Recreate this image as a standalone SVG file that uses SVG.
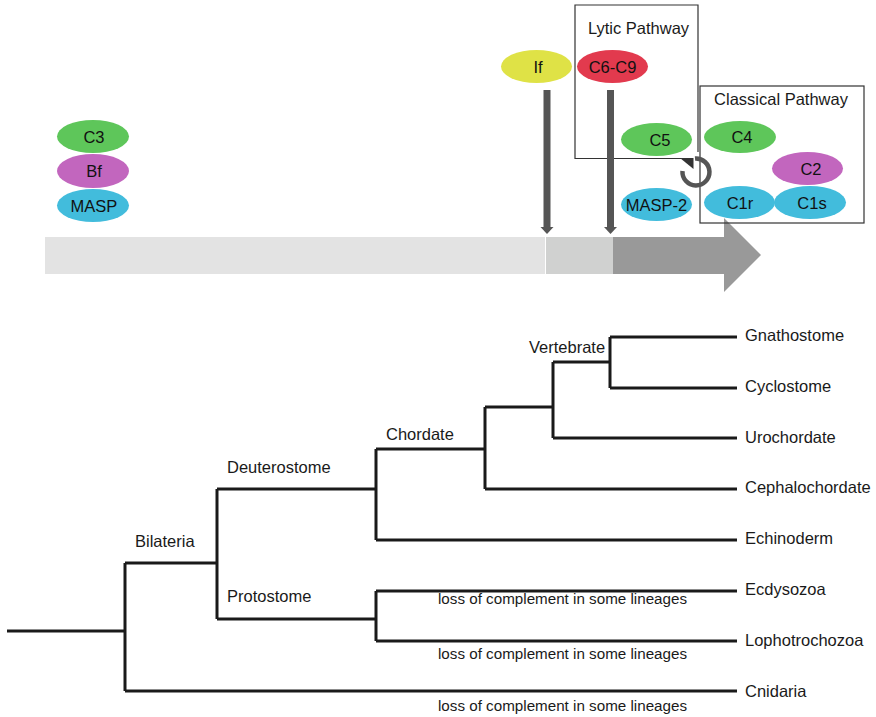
<svg xmlns="http://www.w3.org/2000/svg" width="876" height="717" viewBox="0 0 876 717">
<style>
text { font-family: "Liberation Sans", Arial, sans-serif; fill: #1a1a1a; }
.lbl { font-size: 16.5px; text-anchor: middle; fill: #111; }
.tl { font-size: 16.5px; }
.loss { font-size: 15.2px; }
.box { fill: none; stroke: #333; stroke-width: 1.2; }
.green { fill: #5ec65a; }
.purple { fill: #c266be; }
.cyan { fill: #42bcdc; }
.yellow { fill: #dfe246; }
.red { fill: #e23a4e; }
.tree { fill: none; stroke: #1a1a1a; stroke-width: 3; stroke-linejoin: miter; stroke-linecap: butt; }
.shaft { fill: #555; }
</style>
<rect width="876" height="717" fill="#fff"/>

<!-- timeline bar -->
<g id="bar">
  <rect x="45" y="237" width="500" height="37" fill="#e3e3e3"/>
  <rect x="546" y="237" width="67" height="37" fill="#d0d1d0"/>
  <polygon points="613,237 724,237 724,218 761,255 724,292 724,274 613,274" fill="#999999"/>
</g>

<!-- boxes -->
<g id="lytic-pathway">
  <path class="box" d="M698,152 V5 H575 V158.5 H681"/>
  <text class="tl" x="638.5" y="34" text-anchor="middle">Lytic Pathway</text>
</g>
<g id="classical-pathway">
  <rect class="box" x="700" y="86" width="164" height="137"/>
  <text class="tl" x="781" y="105" text-anchor="middle">Classical Pathway</text>
</g>

<!-- ancestral components -->
<g id="C3"><ellipse class="green" cx="93" cy="136.5" rx="36" ry="16.5"/><text class="lbl" x="94" y="142.5">C3</text></g>
<g id="Bf"><ellipse class="purple" cx="93" cy="171" rx="36" ry="17"/><text class="lbl" x="94" y="177">Bf</text></g>
<g id="MASP"><ellipse class="cyan" cx="93" cy="205.5" rx="36" ry="16.5"/><text class="lbl" x="94" y="211.5">MASP</text></g>

<g id="If"><ellipse class="yellow" cx="536.5" cy="66.5" rx="35.5" ry="16.5"/><text class="lbl" x="538" y="72.5">If</text></g>
<g id="C6-C9"><ellipse class="red" cx="612.5" cy="66.5" rx="35.5" ry="16.5"/><text class="lbl" x="612.5" y="72.5">C6-C9</text></g>
<g id="C5"><ellipse class="green" cx="656.5" cy="139.5" rx="35.5" ry="16.5"/><text class="lbl" x="660" y="145.5">C5</text></g>
<g id="MASP-2"><ellipse class="cyan" cx="656.5" cy="204.5" rx="35.5" ry="16.5"/><text class="lbl" x="656.5" y="210.5">MASP-2</text></g>
<g id="C4"><ellipse class="green" cx="740" cy="137" rx="36" ry="16"/><text class="lbl" x="742" y="143">C4</text></g>
<g id="C2"><ellipse class="purple" cx="807.5" cy="168.5" rx="35.5" ry="16.5"/><text class="lbl" x="811" y="174.5">C2</text></g>
<g id="C1r"><ellipse class="cyan" cx="739.5" cy="202.5" rx="35.5" ry="16.5"/><text class="lbl" x="740" y="208.5">C1r</text></g>
<g id="C1s"><ellipse class="cyan" cx="810" cy="202.5" rx="36" ry="16.5"/><text class="lbl" x="812" y="208.5">C1s</text></g>

<!-- connectors -->
<g id="connectors">
  <rect class="shaft" x="543.5" y="90" width="7" height="138"/>
  <polygon class="shaft" points="540.5,227 553.5,227 547,234"/>
  <rect class="shaft" x="607" y="90" width="7" height="138"/>
  <polygon class="shaft" points="604,227 617,227 610.5,234"/>
  <path d="M695,158.5 A13.5,13.5 0 1 1 682.5,171" fill="none" stroke="#555" stroke-width="4.5"/>
  <polygon points="680,158 693.5,158 693.5,169" fill="#333"/>
</g>

<!-- phylogenetic tree -->
<g id="tree">
  <path class="tree" d="M7,631 H125 M125,563 V691 M125,563 H217 M125,691 H737
    M217,489 V619 M217,489 H376 M217,619 H376
    M376,449 V540 M376,449 H485 M376,540 H737
    M376,591 V641 M376,591 H737 M376,641 H737
    M485,407 V489 M485,407 H553 M485,489 H737
    M553,362 V438 M553,362 H610 M553,438 H737
    M610,337 V388 M610,337 H737 M610,388 H737"/>
</g>
<g id="tree-labels">
  <text class="tl" x="135" y="547">Bilateria</text>
  <text class="tl" x="227" y="473">Deuterostome</text>
  <text class="tl" x="227" y="602">Protostome</text>
  <text class="tl" x="386" y="440">Chordate</text>
  <text class="tl" x="529" y="353">Vertebrate</text>
  <text class="tl" x="745" y="341">Gnathostome</text>
  <text class="tl" x="745" y="392">Cyclostome</text>
  <text class="tl" x="745" y="443">Urochordate</text>
  <text class="tl" x="745" y="493">Cephalochordate</text>
  <text class="tl" x="745" y="544">Echinoderm</text>
  <text class="tl" x="745" y="595">Ecdysozoa</text>
  <text class="tl" x="745" y="646">Lophotrochozoa</text>
  <text class="tl" x="745" y="697">Cnidaria</text>
  <text class="loss" x="438" y="604">loss of complement in some lineages</text>
  <text class="loss" x="438" y="659">loss of complement in some lineages</text>
  <text class="loss" x="438" y="711">loss of complement in some lineages</text>
</g>
</svg>
